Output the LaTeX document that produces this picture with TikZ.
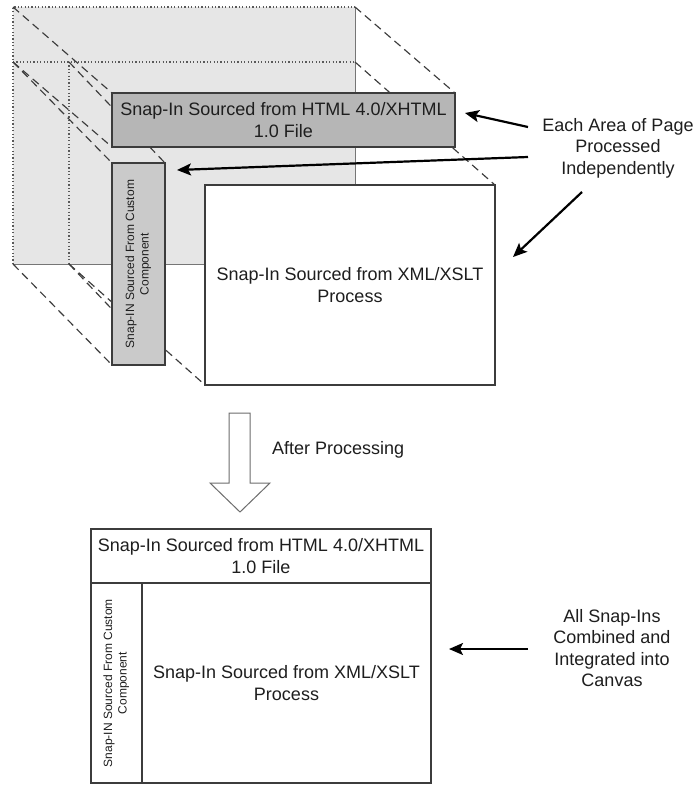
\documentclass[tikz,border=0pt]{standalone}
\usepackage{fontspec}
\setmainfont{Liberation Sans}
\usetikzlibrary{arrows.meta}
\pgfdeclarelayer{canvas}
\pgfdeclarelayer{back}
\pgfsetlayers{canvas,back,main}
\definecolor{bgfill}{HTML}{E6E6E6}
\definecolor{htmlfill}{HTML}{B6B6B6}
\definecolor{custfill}{HTML}{CACACA}
\definecolor{edge}{HTML}{3C3C3C}
\definecolor{txt}{HTML}{1E1E1E}
\begin{document}
\begin{tikzpicture}[x=1pt,y=-1pt,
  panel/.style={draw=edge, line width=1.1pt, inner sep=0pt, outer sep=0pt, align=center, text=txt, font=\fontsize{18}{21.6}\selectfont},
  htmlbox/.style={panel, fill=htmlfill},
  custbox/.style={panel, fill=custfill, font=\fontsize{12}{14.4}\selectfont},
  whitebox/.style={panel, fill=white},
  whitecol/.style={whitebox, font=\fontsize{12}{14.4}\selectfont},
  persp/.style={draw=edge, line width=1.15pt, dash pattern=on 8pt off 5pt},
  dotline/.style={draw=edge!85, line width=1.2pt, dash pattern=on 1.2pt off 2.2pt},
  frameline/.style={draw=edge!70, line width=0.9pt},
  pointer/.style={-{Stealth[length=14pt,width=12pt,inset=3pt]}, line width=2.2pt, black},
  remark/.style={align=center, text=txt, font=\fontsize{18}{21.6}\selectfont, inner sep=0pt},
  hollow/.style={draw=edge!75, line width=1pt, fill=white}
]
\begin{pgfonlayer}{canvas}
  \fill[white] (0,0) rectangle (700,785);
\end{pgfonlayer}
\useasboundingbox (0,0) rectangle (700,785);

% back plane corners
\coordinate (hb1) at (13,7);
\coordinate (hb2) at (355,7);
\coordinate (hb3) at (13,62);
\coordinate (hb4) at (355,62);
\coordinate (cb2) at (69,62);
\coordinate (cb3) at (13,264);
\coordinate (cb4) at (69,264);

% front boxes (exploded view)
\node[htmlbox, minimum width=343pt, minimum height=54pt] (html) at (283.5,120)
  {Snap-In Sourced from HTML 4.0/XHTML\\1.0 File};
\node[custbox, minimum width=53pt, minimum height=202pt] (cust) at (138.5,264)
  {\rotatebox{90}{\begin{tabular}{@{}c@{}}Snap-IN Sourced From Custom\\Component\end{tabular}}};
\node[whitebox, minimum width=290pt, minimum height=200pt] (xml) at (350,285)
  {Snap-In Sourced from XML/XSLT\\Process};

\begin{pgfonlayer}{back}
  \fill[bgfill] (hb1) rectangle (cb4 -| hb2);
  \draw[dotline] (cb3) -- (hb1) -- (hb2);
  \draw[dotline] (hb3) -- (hb4);
  \draw[dotline] (cb2) -- (cb4);
  \draw[frameline] (hb2) -- (cb4 -| hb2);
  \draw[frameline] (cb3) -- (cb4 -| hb2);
  % perspective lines
  \draw[persp] (hb1) -- (html.north west);
  \draw[persp] (hb2) -- (html.north east);
  \draw[persp] (hb3) -- (html.south west);
  \draw[persp] (hb4) -- (xml.north east);
  \draw[persp] (hb3) -- (cust.north west);
  \draw[persp] (cb2) -- (cust.north east);
  \draw[persp] (cb3) -- (cust.south west);
  \draw[persp] (cb4) -- (cust.south east);
  \draw[persp] (cb4) -- (xml.south west);
\end{pgfonlayer}

% notes and pointers (top)
\node[remark] (n1) at (618,148) {Each Area of Page\\Processed\\Independently};
\coordinate (p1s) at (528,127);
\coordinate (p1e) at (465,113);
\coordinate (p2s) at (528,157);
\coordinate (p2e) at (177,170);
\coordinate (p3s) at (582,192);
\coordinate (p3e) at (513,257);
\draw[pointer] (p1s) -- (p1e);
\draw[pointer] (p2s) -- (p2e);
\draw[pointer] (p3s) -- (p3e);

% big hollow arrow
\draw[hollow] (229,413) -- (250,413) -- (250,483) -- (270,483) -- (240,512)
  -- (210,483) -- (229,483) -- cycle;
\node[remark, anchor=west] (after) at (272,450) {After Processing};

% combined canvas
\node[whitebox, minimum width=340pt, minimum height=54pt] (html2) at (261,556)
  {Snap-In Sourced from HTML 4.0/XHTML\\1.0 File};
\node[whitecol, minimum width=51pt, minimum height=200pt] (cust2) at (116.5,683)
  {\rotatebox{90}{\begin{tabular}{@{}c@{}}Snap-IN Sourced From Custom\\Component\end{tabular}}};
\node[whitebox, minimum width=289pt, minimum height=200pt] (xml2) at (286.5,683)
  {Snap-In Sourced from XML/XSLT\\Process};

\node[remark] (n2) at (612,648) {All Snap-Ins\\Combined and\\Integrated into\\Canvas};
\coordinate (p4s) at (528,649);
\coordinate (p4e) at (449,649);
\draw[pointer] (p4s) -- (p4e);
\end{tikzpicture}
\end{document}
